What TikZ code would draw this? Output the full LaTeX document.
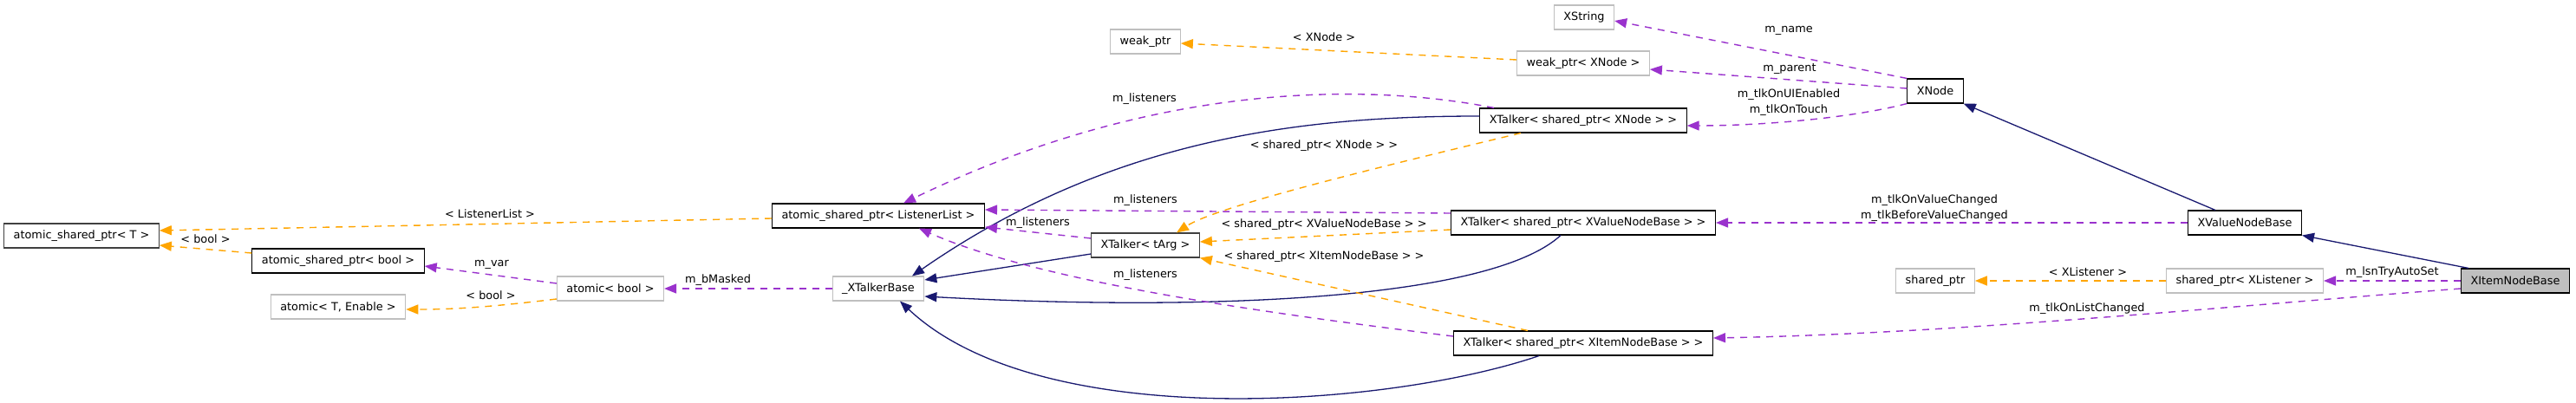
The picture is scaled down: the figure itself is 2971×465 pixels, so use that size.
\documentclass[tikz,border=0pt]{standalone}
\usepackage{fontspec}
\setmainfont{DejaVu Sans}
\usetikzlibrary{arrows.meta}
\definecolor{grey75}{HTML}{BFBFBF}
\definecolor{grey25}{HTML}{404040}
\definecolor{midnight}{HTML}{191970}
\definecolor{orchid}{HTML}{9A32CD}
\definecolor{tmplorange}{HTML}{FFA500}
\begin{document}
\begin{tikzpicture}[x=1pt,y=-1pt,font=\fontsize{12.85}{17.5}\selectfont,
  classbox/.style={draw=black,line width=1.1pt,fill=white,minimum height=28pt,inner xsep=11pt,inner ysep=0pt},
  tmplbox/.style={classbox,draw=grey25},
  extbox/.style={classbox,draw=grey75},
  lbl/.style={inner sep=0pt,align=center},
  inh/.style={midnight,line width=1.3pt,-{Triangle[length=14pt,width=11pt]}},
  member/.style={orchid,line width=1.4pt,dash pattern=on 8pt off 7pt,-{Triangle[length=14pt,width=11pt]}},
  tmplarg/.style={tmplorange,line width=1.4pt,dash pattern=on 8pt off 7pt,-{Triangle[length=14pt,width=11pt]}}]
  \useasboundingbox[fill=white] (0,0) rectangle (2971,465);
  % classes
  \node[tmplbox] (aspT) at (94,272) {atomic\_shared\_ptr< T >};
  \node[classbox] (aspBool) at (390,301) {atomic\_shared\_ptr< bool >};
  \node[extbox] (atomicTE) at (390,354) {atomic< T, Enable >};
  \node[classbox] (aspList) at (1013,249) {atomic\_shared\_ptr< ListenerList >};
  \node[extbox] (atomicBool) at (704,333) {atomic< bool >};
  \node[extbox] (talkerBase) at (1013,333) {\_XTalkerBase};
  \node[tmplbox] (talkerArg) at (1321,283) {XTalker< tArg >};
  \node[extbox] (weakPtr) at (1321,48) {weak\_ptr};
  \node[extbox] (xString) at (1827,20) {XString};
  \node[extbox] (weakNode) at (1826,73) {weak\_ptr< XNode >};
  \node[classbox] (talkerNode) at (1826,139) {XTalker< shared\_ptr< XNode > >};
  \node[classbox] (talkerValue) at (1826,257) {XTalker< shared\_ptr< XValueNodeBase > >};
  \node[classbox] (talkerItem) at (1826,396) {XTalker< shared\_ptr< XItemNodeBase > >};
  \node[classbox] (xNode) at (2232,105) {XNode};
  \node[classbox] (valueBase) at (2589,257) {XValueNodeBase};
  \node[classbox,fill=grey75] (itemBase) at (2901,324) {XItemNodeBase};
  \node[extbox] (sharedPtr) at (2232,324) {shared\_ptr};
  \node[extbox] (sharedLsn) at (2589,324) {shared\_ptr< XListener >};
  % inheritance
  \draw[inh] ([yshift=5pt]talkerNode.west) .. controls (1500,134) and (1280,160) .. ([xshift=39pt]talkerBase.north);
  \draw[inh] ([yshift=-10pt]talkerArg.west) -- ([yshift=10pt]talkerBase.east);
  \draw[inh] ([xshift=-26pt]talkerValue.south) .. controls (1720,345) and (1400,360) .. ([yshift=-9pt]talkerBase.east);
  \draw[inh] ([xshift=-51pt]talkerItem.south) .. controls (1600,470) and (1200,500) .. ([xshift=25pt]talkerBase.south);
  \draw[inh] ([xshift=-34pt]valueBase.north) -- (xNode.south east);
  \draw[inh] ([xshift=-54pt]itemBase.north) -- (valueBase.south east);
  % members
  \draw[member] ([yshift=6pt]atomicBool.west) -- ([yshift=-6pt]aspBool.east);
  \draw[member] (talkerBase.west) -- (atomicBool.east);
  \draw[member] ([xshift=-103pt]talkerNode.north) .. controls (1600,100) and (1350,85) .. ([xshift=29pt]aspList.north);
  \draw[member] ([yshift=11pt]talkerValue.west) -- ([yshift=7pt]aspList.east);
  \draw[member] ([yshift=8pt]talkerArg.west) -- ([yshift=-13pt]aspList.east);
  \draw[member] ([yshift=8pt]talkerItem.west) .. controls (1450,360) and (1200,325) .. ([xshift=47pt]aspList.south);
  \draw[member] (xNode.north west) -- ([yshift=-4pt]xString.east);
  \draw[member] ([yshift=3pt]xNode.west) -- ([yshift=-7pt]weakNode.east);
  \draw[member] (xNode.south west) .. controls (2140,135) and (2040,145) .. ([yshift=-6pt]talkerNode.east);
  \draw[member] (valueBase.west) -- (talkerValue.east);
  \draw[member] (itemBase.west) -- (sharedLsn.east);
  \draw[member] ([yshift=-9pt]itemBase.west) .. controls (2550,355) and (2250,385) .. ([yshift=6pt]talkerItem.east);
  % template arguments
  \draw[tmplarg] ([yshift=-3pt]aspList.west) -- ([yshift=6pt]aspT.east);
  \draw[tmplarg] ([yshift=9pt]aspBool.west) -- ([yshift=-11pt]aspT.east);
  \draw[tmplarg] ([yshift=-12pt]atomicBool.west) .. controls (560,355) and (520,357) .. ([yshift=-3pt]atomicTE.east);
  \draw[tmplarg] ([xshift=-72pt]talkerNode.south) .. controls (1560,200) and (1400,240) .. ([xshift=36pt]talkerArg.north);
  \draw[tmplarg] ([yshift=-8pt]talkerValue.west) -- ([yshift=4pt]talkerArg.east);
  \draw[tmplarg] ([xshift=-64pt]talkerItem.north) -- (talkerArg.south east);
  \draw[tmplarg] ([yshift=4pt]weakNode.west) -- ([yshift=-2pt]weakPtr.east);
  \draw[tmplarg] (sharedLsn.west) -- (sharedPtr.east);
  % labels
  \node[lbl] (lListT) at (565,247) {< ListenerList >};
  \node[lbl] (lBoolT) at (237,276) {< bool >};
  \node[lbl] (lVar) at (567,305) {m\_var};
  \node[lbl] (lBoolE) at (566,341) {< bool >};
  \node[lbl] (lMasked) at (828,323) {m\_bMasked};
  \node[lbl] (lLsnNode) at (1320,114) {m\_listeners};
  \node[lbl] (lLsnValue) at (1321,231) {m\_listeners};
  \node[lbl] (lLsnArg) at (1197,257) {m\_listeners};
  \node[lbl] (lLsnItem) at (1321,317) {m\_listeners};
  \node[lbl] (lArgNode) at (1527,168) {< shared\_ptr< XNode > >};
  \node[lbl] (lArgValue) at (1527,259) {< shared\_ptr< XValueNodeBase > >};
  \node[lbl] (lArgItem) at (1527,296) {< shared\_ptr< XItemNodeBase > >};
  \node[lbl] (lWeak) at (1527,43) {< XNode >};
  \node[lbl] (lName) at (2063,35) {m\_name};
  \node[lbl] (lParent) at (2064,80) {m\_parent};
  \node[lbl] (lTlkNode) at (2063,118) {m\_tlkOnUIEnabled\\m\_tlkOnTouch};
  \node[lbl] (lTlkValue) at (2231,240) {m\_tlkOnValueChanged\\m\_tlkBeforeValueChanged};
  \node[lbl] (lTrySet) at (2759,314) {m\_lsnTryAutoSet};
  \node[lbl] (lListener) at (2408,314) {< XListener >};
  \node[lbl] (lTlkItem) at (2407,356) {m\_tlkOnListChanged};
\end{tikzpicture}
\end{document}
